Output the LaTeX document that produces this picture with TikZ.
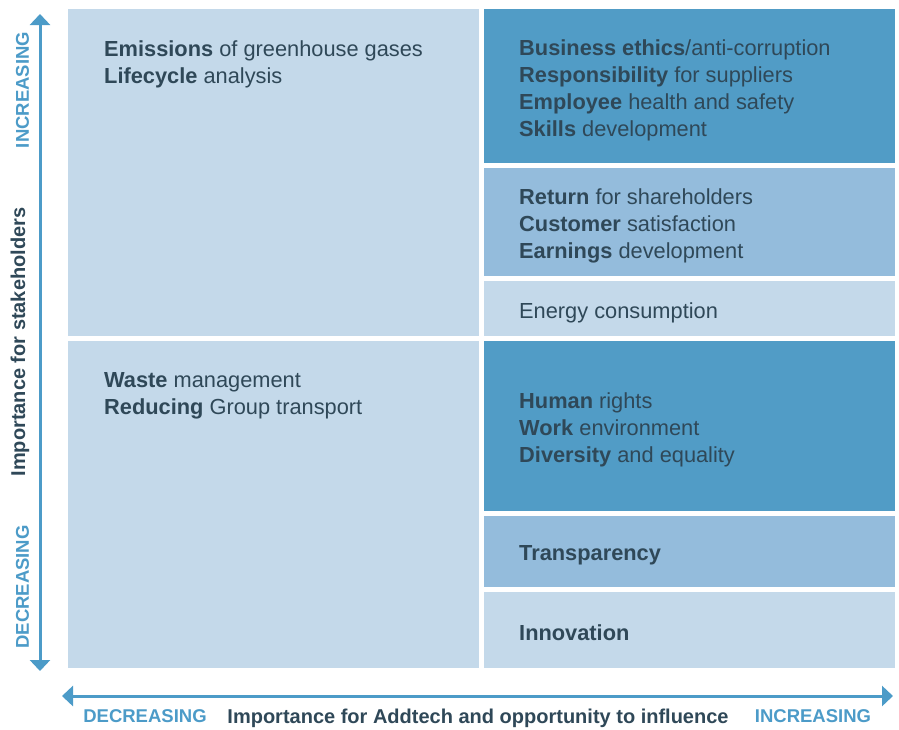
\documentclass[tikz,border=0pt]{standalone}
\usepackage{fontspec}
\setmainfont{Liberation Sans}
\usetikzlibrary{positioning,arrows.meta}
\definecolor{lightblue}{HTML}{C4D9EA}
\definecolor{midblue}{HTML}{94BCDC}
\definecolor{darkblue}{HTML}{519CC6}
\definecolor{axisblue}{HTML}{4C9BC8}
\definecolor{ink}{HTML}{2F4858}
\begin{document}
\begin{tikzpicture}[
  x=1pt, y=-1pt,
  cell/.style={rectangle, inner sep=0pt, outer sep=0pt, minimum width=411pt},
  txt/.style={inner sep=0pt, align=left, anchor=west, text=ink, font=\fontsize{21.8}{27}\selectfont},
  axis/.style={line width=3pt, draw=axisblue, {Triangle[width=20pt,length=11pt]}-{Triangle[width=20pt,length=11pt]}},
  axislabel/.style={inner sep=0pt, text=axisblue, font=\fontsize{18.5}{20}\selectfont\bfseries},
  axistitle/.style={inner sep=0pt, text=ink, font=\fontsize{20}{22}\selectfont\bfseries},
  node distance=5pt
]
\useasboundingbox (0,0) rectangle (899,729);

% left column
\node[cell, fill=lightblue, minimum height=327pt, anchor=north west] (emis) at (68,9) {};
\node[cell, fill=lightblue, minimum height=327pt, below=of emis] (waste) {};
% right column
\node[cell, fill=darkblue, minimum height=154pt, right=of emis.north east, anchor=north west] (ethics) {};
\node[cell, fill=midblue, minimum height=108pt, below=of ethics] (returns) {};
\node[cell, fill=lightblue, minimum height=55pt, below=of returns] (energy) {};
\node[cell, fill=darkblue, minimum height=170pt, below=of energy] (rights) {};
\node[cell, fill=midblue, minimum height=71pt, below=of rights] (transp) {};
\node[cell, fill=lightblue, minimum height=76pt, below=of transp] (innov) {};

% texts
\node[txt] (emistxt) at ([xshift=36pt,yshift=-55pt]emis.north west)
  {\textbf{Emissions} of greenhouse gases\\\textbf{Lifecycle} analysis};
\node[txt] (wastetxt) at ([xshift=36pt,yshift=-55pt]waste.north west)
  {\textbf{Waste} management\\\textbf{Reducing} Group transport};
\node[txt] (ethicstxt) at ([xshift=35pt,yshift=-4.5pt]ethics.west)
  {\textbf{Business ethics}/anti-corruption\\\textbf{Responsibility} for suppliers\\\textbf{Employee} health and safety\\\textbf{Skills} development};
\node[txt] (returnstxt) at ([xshift=35pt,yshift=-4pt]returns.west)
  {\textbf{Return} for shareholders\\\textbf{Customer} satisfaction\\\textbf{Earnings} development};
\node[txt] (energytxt) at ([xshift=35pt,yshift=-4pt]energy.west) {Energy consumption};
\node[txt] (rightstxt) at ([xshift=35pt,yshift=-4pt]rights.west)
  {\textbf{Human} rights\\\textbf{Work} environment\\\textbf{Diversity} and equality};
\node[txt] (transptxt) at ([xshift=35pt,yshift=-4pt]transp.west) {\textbf{Transparency}};
\node[txt] (innovtxt) at ([xshift=35pt,yshift=-3pt]innov.west) {\textbf{Innovation}};

% axes
\coordinate (ytop) at (40,14);
\coordinate (ybot) at (40,671);
\coordinate (xleft) at (62,696);
\coordinate (xright) at (893,696);
\draw[axis] (ybot) -- (ytop);
\draw[axis] (xleft) -- (xright);

\node[axislabel, rotate=90] (yinc) at (22.5,90) {INCREASING};
\node[axislabel, rotate=90] (ydec) at (22.5,587) {DECREASING};
\node[axistitle, rotate=90] (ytitle) at (20,342) {Importance for stakeholders};
\node[axislabel, anchor=base] (xdec) at (145,722) {DECREASING};
\node[axistitle, anchor=base] (xtitle) at (478,723) {Importance for Addtech and opportunity to influence};
\node[axislabel, anchor=base] (xinc) at (813,722) {INCREASING};
\end{tikzpicture}
\end{document}
